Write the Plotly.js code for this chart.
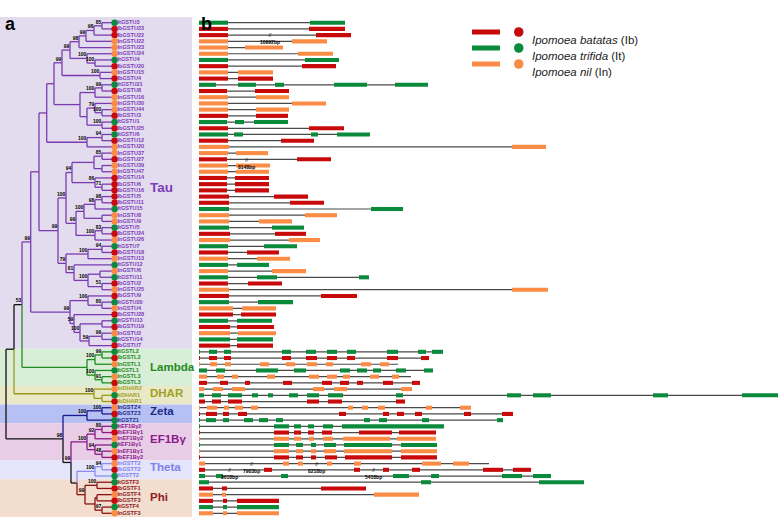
<!DOCTYPE html>
<html><head><meta charset="utf-8">
<script src="https://cdn.plot.ly/plotly-3.0.1.min.js"></script>
<style>html,body{margin:0;padding:0;background:#fff}#chart{width:778px;height:517px}</style>
</head><body><div id="chart"></div>
<script>
// ---------------- DATA ----------------
const leafNames = ['ItGSTU3','IbGSTU23','IbGSTU22','InGSTU22','InGSTU23','InGSTU24','ItGSTU4','IbGSTU20','InGSTU15','IbGSTU4',
 'ItGSTU21','IbGSTU8','InGSTU16','InGSTU30','InGSTU44','IbGSTU3','ItGSTU1','IbGSTU25','ItGSTU6','IbGSTU12',
 'InGSTU20','InGSTU37','IbGSTU27','InGSTU39','InGSTU47','IbGSTU14','IbGSTU6','IbGSTU16','IbGSTU5','IbGSTU11',
 'ItGSTU15','InGSTU8','InGSTU9','ItGSTU5','IbGSTU24','InGSTU26','ItGSTU7','IbGSTU18','InGSTU13','ItGSTU12',
 'InGSTU6','ItGSTU11','IbGSTU2','InGSTU25','IbGSTU9','ItGSTU20','InGSTU4','IbGSTU28','ItGSTU13','IbGSTU19',
 'InGSTU2','ItGSTU14','IbGSTU7',
 'ItGSTL2','IbGSTL2','InGSTL1','ItGSTL1','InGSTL3','IbGSTL3',
 'InDHAR2','ItDHAR1','IbDHAR1',
 'InGSTZ4','IbGSTZ3','ItGSTZ1',
 'ItEF1Bγ2','IbEF1Bγ1','InEF1Bγ2','ItEF1Bγ1','InEF1Bγ1','IbEF1Bγ2',
 'InGSTT2','IbGSTT2','ItGSTT2',
 'ItGSTF3','IbGSTF1','InGSTF4','IbGSTF3','ItGSTF4','InGSTF3'];

const cladeNames  = ['Tau','Lambda','DHAR','Zeta','EF1Bγ','Theta','Phi'];
const cladeFirst  = [0, 53, 59, 62, 65, 71, 74];
const cladeLast   = [52, 58, 61, 64, 70, 73, 79];

const speciesCodes = ['Ib','It','In'];
const speciesNames = ['Ipomoea batatas','Ipomoea trifida','Ipomoea nil'];

// tree in bracket notation: leaves = row index, ")bootstrap@depth"
const nwkA1 = "((((((0,1)85@102,2)98@94,3)99@86,4)98@79,(5,(6,7)100@95)100@87)99@70,(8,9)100@100)99@62";
const nwkA2 = "(((10,11)99@102,12)100@95,((13,(14,15)100@102)79@95,(16,17)100@102)@87)@80";
const nwkP2 = "((18,19)94@102,20)100@87";
const nwkQ1a = "(((21,22)85@102,(23,24)@102)@94,(25,(26,27)71@102)86@95)94@72";
const nwkQ1b = "((((28,29)98@102,30)98@95,(31,32)@102)100@84,((33,34)83@102,35)100@95)99@76";
const nwkQ2 = "(((36,37)94@102,38)100@88,(39,((40,41)@100,(42,43)51@102)100@88)81@74)79@66";
const nwkC = "((44,(45,46)80@102)100@88,(47,((48,49)@102,((50,51)99@102,52)59@89)100@80)59@74)99@70";
const nwkTau = `((((${nwkA1},${nwkA2})@54,${nwkP2})@46.7,((${nwkQ1a},${nwkQ1b})100@66,${nwkQ2})99@58)@39,${nwkC})99@30.7`;
const nwkLambda = "(((53,54)99@102,55)100@95,(56,(57,58)91@102)100@95)@87";
const nwkDHAR = "(59,(60,61)@102)100@94";
const nwkZeta = "((62,63)100@102,64)100@87";
const nwkEF1 = "(((65,66)80@102,67)92@95,(68,(69,70)48@102)94@95)100@87";
const nwkTheta = "((71,72)94@102,73)100@95";
const nwkPhi = "((74,75)100@97,((76,77)@97,(78,79)97@102)@95)99@85";
const nwkRoot = `(((${nwkTau},${nwkLambda})53@22,${nwkDHAR})@14,(${nwkZeta},(${nwkEF1},(${nwkTheta},${nwkPhi})@77)99@71)98@63)@6`;
const tipDepth = 112;

// gene structures: exons [start,end] (relative length units), and gene end
const exons = [
 [[0,29],[111,146]],[[0,29],[110,146]],[[0,29],[117,152]],[[0,29],[93,128]],[[0,29],[46,84]],
 [[0,29],[99,134]],[[0,29],[106,140]],[[0,29],[103,137]],[[0,29],[39,74]],[[0,29],[39,74]],
 [[0,17],[39,57],[76,85],[135,168],[196,229]],[[0,28],[56,90]],[[0,29],[57,90]],[[0,29],[93,127]],[[0,29],[57,90]],
 [[0,29],[57,89]],[[0,28],[36,45],[55,89]],[[0,29],[110,145]],[[0,29],[35,44],[112,119],[138,171]],[[0,29],[82,115]],
 [[0,30],[313,347]],[[0,29],[37,69]],[[0,28],[98,132]],[[0,29],[37,71]],[[0,29],[37,70]],
 [[0,28],[36,70]],[[0,28],[36,70]],[[0,28],[36,70]],[[0,30],[75,109]],[[0,30],[91,125]],
 [[0,30],[172,204]],[[0,30],[106,138]],[[0,30],[60,93]],[[0,30],[73,105]],[[0,31],[76,107]],
 [[0,31],[90,121]],[[0,29],[65,98]],[[0,29],[48,80]],[[0,29],[58,91]],[[0,29],[38,70]],
 [[0,29],[73,107]],[[0,29],[58,78],[160,170]],[[0,29],[49,83]],[[0,30],[313,349]],[[0,30],[122,158]],
 [[0,30],[59,94]],[[0,34],[43,77]],[[0,34],[42,77]],[[0,29],[38,73]],[[0,31],[38,75]],
 [[0,31],[39,77]],[[0,31],[38,74]],[[0,31],[38,74]],
 [[0,1],[10,18],[25,32],[83,92],[107,117],[128,138],[148,157],[188,199],[219,227],[233,244]],
 [[0,1],[10,18],[25,32],[83,92],[107,118],[128,138],[148,156],[188,199],[222,230]],
 [[0,1],[11,18],[26,32],[61,70],[87,96],[108,118],[127,134],[162,172],[181,190]],
 [[0,8],[17,26],[57,79],[95,107],[141,151],[158,168],[174,182],[197,207],[225,234]],
 [[0,8],[18,25],[33,39],[68,76],[110,120],[128,138],[144,151],[171,180],[193,200]],
 [[0,8],[21,29],[46,51],[84,93],[123,133],[141,150],[158,164],[184,194],[213,221]],
 [[0,5],[14,24],[33,46],[114,125],[135,148],[202,213]],
 [[0,5],[13,22],[29,43],[53,59],[69,74],[90,99],[108,120],[129,144],[197,204],[308,322],[334,352],[454,469],[543,580]],
 [[0,6],[13,22],[29,43],[108,120],[129,143],[197,206]],
 [[0,1],[8,18],[25,30],[36,44],[52,59],[149,154],[163,169],[179,186],[227,233],[261,272]],
 [[0,1],[7,18],[24,30],[39,48],[140,147],[184,190],[198,205],[216,223],[265,272],[303,314]],
 [[0,1],[7,17],[24,30],[45,54],[60,69],[77,84],[165,171],[180,188],[223,230],[298,304]],
 [[0,1],[75,90],[95,102],[109,115],[124,134],[143,245]],
 [[0,1],[75,90],[95,102],[109,115],[123,133],[160,193],[200,237]],
 [[0,1],[75,90],[95,102],[110,115],[124,134],[144,191],[198,237]],
 [[0,1],[75,90],[97,104],[112,117],[125,137],[145,193],[202,238]],
 [[0,1],[75,90],[97,104],[112,117],[125,137],[145,193],[202,238]],
 [[0,1],[75,90],[97,104],[112,117],[126,138],[146,193],[202,238]],
 [[0,6],[84,90],[99,104],[128,133],[155,162],[223,242],[254,270]],
 [[0,6],[65,73],[155,161],[184,190],[213,221],[284,304],[314,332]],
 [[0,6],[17,24],[82,89],[194,210],[232,240],[303,323],[334,352]],
 [[0,10],[222,232],[340,385]],
 [[0,14],[23,28],[122,167]],
 [[0,14],[23,27],[175,220]],
 [[0,14],[24,28],[38,80]],
 [[0,14],[24,28],[38,80]],
 [[0,14],[24,28],[38,80]]
];
const geneEnd = [146,146,152,128,84,134,140,137,74,74,229,90,90,127,90,89,89,145,171,115,
 347,69,132,71,70,70,70,70,109,125,204,138,93,105,107,121,98,80,91,70,107,170,83,349,158,94,77,77,73,75,77,74,74,
 244,230,199,234,212,221,213,600,206,272,314,304,245,237,237,238,238,238,290,332,352,385,167,220,80,80,80];

const breakLabels = ['10992bp','8148bp','7903bp','3618bp','8218bp','5418bp'];
const breakRows = [2,22,71,72,71,72];
const breakPos = [71,47,52,30,117,174];

// ---------------- STYLE ----------------
const speciesColor = {Ib:'#c80a0a', It:'#0b8a3c', In:'#fb8c46'};
const cladeLine  = ['#7a3bb0','#1f8c1f','#9c9a1c','#1a1a8a','#8b1a8b','#8c8cf0','#8b1414'];
const cladeText  = ['#7d3cb8','#238a23','#a0a024','#1c2a8c','#8b1a8b','#8080ec','#8b2020'];
const cladeBand  = ['#e3dcee','#d9eed6','#e9e9c7','#b7c0f2','#e9cde6','#e4e4fa','#f2ddce'];
const rowPx0 = 22.7, rowStep = 6.21, W = 778, H = 517;
const yTop = -rowPx0/rowStep, yBot = (H-rowPx0)/rowStep;
const geneX0 = 199;
const fontF = 'Liberation Sans, Arial, sans-serif';

function cladeOf(r){ for(let i=0;i<cladeFirst.length;i++) if(r>=cladeFirst[i]&&r<=cladeLast[i]) return i; return -1; }
function speciesOf(name){ return name.slice(0,2); }

// ---------------- TREE PARSE ----------------
function parseTree(s){
  let i=0;
  function node(){
    if(s[i]==='('){
      i++; const ch=[node()];
      while(s[i]===','){ i++; ch.push(node()); }
      i++; // ')'
      let bs=''; while(i<s.length && /[0-9]/.test(s[i])) bs+=s[i++];
      let d=0; if(s[i]==='@'){ i++; let n=''; while(i<s.length && /[0-9.]/.test(s[i])) n+=s[i++]; d=parseFloat(n); }
      return {children:ch, bs, depth:d};
    } else { let n=''; while(/[0-9]/.test(s[i])) n+=s[i++]; return {leaf:parseInt(n), depth:tipDepth}; }
  }
  return node();
}
const root = parseTree(nwkRoot);
function layoutNode(n){
  if(n.children===undefined){ n.y=n.leaf; n.clade=cladeOf(n.leaf); return; }
  n.children.forEach(layoutNode);
  const ys=n.children.map(c=>c.y);
  n.y=(Math.min(...ys)+Math.max(...ys))/2;
  const cl=n.children.map(c=>c.clade);
  n.clade = cl.every(c=>c===cl[0]) ? cl[0] : -1;
}
layoutNode(root);
const segs={}; const bsX=[],bsY=[],bsT=[];
function addSeg(col,x0,y0,x1,y1){ (segs[col]=segs[col]||{x:[],y:[]}); segs[col].x.push(x0,x1,null); segs[col].y.push(y0,y1,null); }
function walk(n){
  if(!n.children) return;
  n.children.forEach(c=>{
    const col = c.clade>=0 ? cladeLine[c.clade] : '#111111';
    addSeg(col, n.depth, n.y, n.depth, c.y);
    addSeg(col, n.depth, c.y, c.depth, c.y);
    walk(c);
  });
  if(n.bs){ bsX.push(n.depth-0.6); bsY.push(n.y-0.55); bsT.push('<b>'+n.bs+'</b>'); }
}
walk(root);

// ---------------- TRACES ----------------
const traces=[];
Object.keys(segs).forEach(col=>traces.push({type:'scatter',mode:'lines',x:segs[col].x,y:segs[col].y,
  line:{color:col,width:1.3},hoverinfo:'skip',showlegend:false,xaxis:'x',yaxis:'y'}));
const rows = leafNames.map((_,i)=>i);
traces.push({type:'scatter',mode:'markers',x:rows.map(()=>tipDepth+2.6),y:rows,
  marker:{size:6.5,color:leafNames.map(n=>speciesColor[speciesOf(n)]),line:{width:0}},hoverinfo:'skip',showlegend:false});
traces.push({type:'scatter',mode:'text',x:rows.map(()=>tipDepth+5.5),y:rows,text:leafNames.map(n=>'<b>'+n+'</b>'),textposition:'middle right',
  textfont:{family:fontF,size:5.6,color:rows.map(r=>cladeText[cladeOf(r)])},hoverinfo:'skip',showlegend:false});
traces.push({type:'scatter',mode:'text',x:bsX,y:bsY,text:bsT,textposition:'middle left',
  textfont:{family:fontF,size:5,color:'#000'},hoverinfo:'skip',showlegend:false});

// introns (thin bars drawn first, behind exons)
traces.push({type:'bar',orientation:'h',base:rows.map(()=>0),x:rows.map(r=>geneEnd[r]),y:rows,width:0.2,
  marker:{color:'#4a4a4a',line:{width:0}},xaxis:'x2',yaxis:'y',hoverinfo:'skip',showlegend:false});
// exons per species
speciesCodes.forEach(sp=>{
  const b=[],l=[],y=[];
  rows.forEach(r=>{ if(speciesOf(leafNames[r])!==sp) return; exons[r].forEach(e=>{ b.push(e[0]); l.push(e[1]-e[0]); y.push(r); }); });
  traces.push({type:'bar',orientation:'h',base:b,x:l,y:y,width:0.66,marker:{color:speciesColor[sp],line:{width:0}},
    xaxis:'x2',yaxis:'y',hoverinfo:'skip',showlegend:false});
});

// ---------------- LAYOUT ----------------
const shapes=[], annotations=[];
cladeNames.forEach((c,i)=>{
  shapes.push({type:'rect',xref:'paper',yref:'y',x0:0,x1:192/W,y0:(i===0?-0.9:cladeFirst[i]-0.5),y1:(i===6?yBot:cladeLast[i]+0.5),
    fillcolor:cladeBand[i],line:{width:0},layer:'below'});
});
const cladeLabelRow = [26.5, 55.5, 59.7, 62.6, 67.1, 71.6, 76.4];
cladeNames.forEach((c,i)=>{
  annotations.push({xref:'x',yref:'y',x:148,y:cladeLabelRow[i],text:'<b>'+c+'</b>',showarrow:false,xanchor:'left',
    font:{family:fontF,size:i===0?13.5:11.5,color:cladeText[i]}});
});
breakLabels.forEach((t,i)=>{
  annotations.push({xref:'x2',yref:'y',x:breakPos[i],y:breakRows[i]-0.75,yanchor:'top',text:'//<br><b>'+t+'</b>',showarrow:false,
    font:{family:fontF,size:5,color:'#000'}});
});
annotations.push({xref:'paper',yref:'paper',x:3/W,y:1-12/H,text:'<b>a</b>',showarrow:false,xanchor:'left',font:{family:fontF,size:18,color:'#000'}});
annotations.push({xref:'paper',yref:'paper',x:199/W,y:1-12/H,text:'<b>b</b>',showarrow:false,xanchor:'left',font:{family:fontF,size:18,color:'#000'}});
// legend
speciesCodes.forEach((sp,i)=>{
  const py=32+i*16;
  shapes.push({type:'rect',xref:'paper',yref:'paper',x0:472/W,x1:500/W,y0:1-(py+2.5)/H,y1:1-(py-2.5)/H,fillcolor:speciesColor[sp],line:{width:0}});
  shapes.push({type:'circle',xref:'paper',yref:'paper',x0:514/W,x1:523.5/W,y0:1-(py+4.8)/H,y1:1-(py-4.8)/H,fillcolor:speciesColor[sp],line:{width:0}});
  annotations.push({xref:'paper',yref:'paper',x:530/W,y:1-py/H,text:'<i>'+speciesNames[i]+'</i> ('+sp+')',showarrow:false,xanchor:'left',
    font:{family:fontF,size:11.5,color:'#222'}});
});

const layout={width:W,height:H,margin:{l:0,r:0,t:0,b:0},paper_bgcolor:'#fff',plot_bgcolor:'rgba(0,0,0,0)',
  barmode:'overlay',showlegend:false,
  xaxis:{range:[0,W],domain:[0,1],visible:false,fixedrange:true},
  xaxis2:{range:[-geneX0,W-geneX0],domain:[0,1],overlaying:'x',visible:false,fixedrange:true},
  yaxis:{range:[yBot,yTop],domain:[0,1],visible:false,fixedrange:true},
  shapes,annotations};
Plotly.newPlot('chart',traces,layout,{staticPlot:true,displayModeBar:false});
</script></body></html>
